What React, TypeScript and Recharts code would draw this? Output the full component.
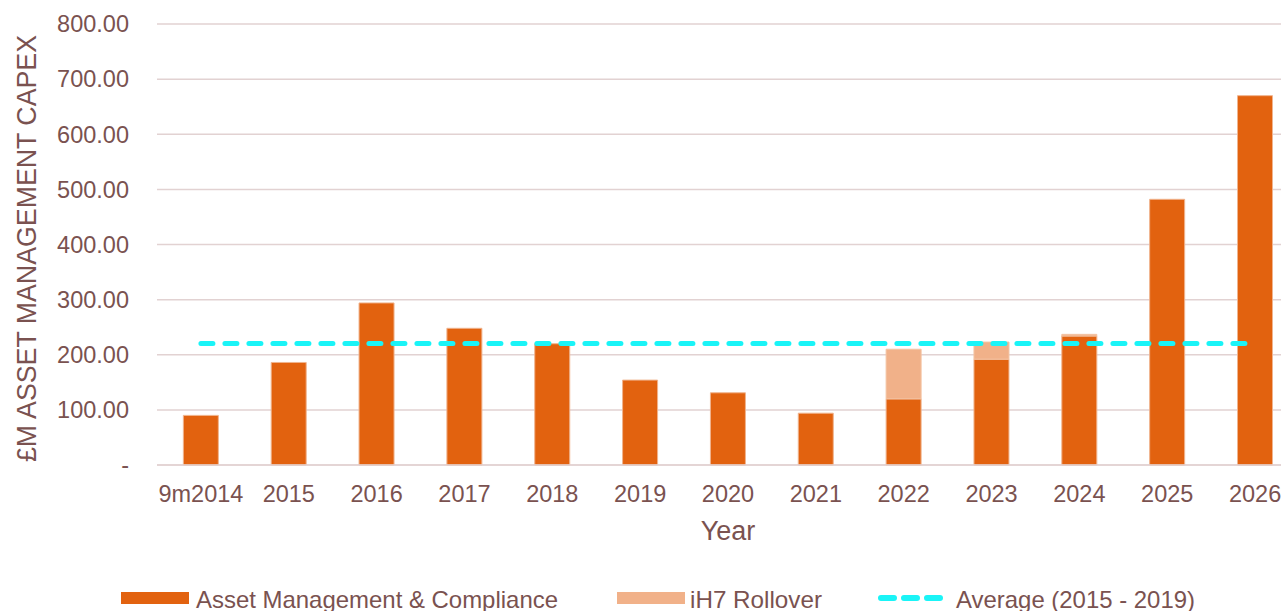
import React from 'react';
import { Bar, Line, XAxis, YAxis, CartesianGrid, Legend, ComposedChart } from 'recharts';

const categories = ['9m2014', '2015', '2016', '2017', '2018', '2019', '2020', '2021', '2022', '2023', '2024', '2025', '2026'];
const assetManagement = [90, 186, 294, 248, 220, 154, 131, 94, 120, 192, 234, 482, 670];
const ih7Rollover = [0, 0, 0, 0, 0, 0, 0, 0, 90, 31, 3, 0, 0];
const averageValues = [220.4, 220.4, 220.4, 220.4, 220.4, 220.4, 220.4, 220.4, 220.4, 220.4, 220.4, 220.4, 220.4];
const yTicks = [0, 100, 200, 300, 400, 500, 600, 700, 800];

const data = categories.map((c, i) => ({
  year: c,
  am: assetManagement[i],
  ih7: ih7Rollover[i],
  avg: averageValues[i],
}));

const FONT = '"Liberation Sans", Arial, sans-serif';
const TEXT = '#7A5250';
const GRID = '#E2D2D2';
const DARK = '#E2620F';
const LIGHT = '#F1B189';
const CYAN = '#1AF4F7';

const renderLegend = () => (
  <svg width={1300} height={40} style={{ display: 'block' }}>
    <rect x={121} y={14} width={68} height={12} fill={DARK} />
    <text x={196} y={21} dominantBaseline="central" fontSize={24} fill={TEXT} fontFamily={FONT} textLength={362} lengthAdjust="spacingAndGlyphs">Asset Management &amp; Compliance</text>
    <rect x={617} y={14} width={68} height={12} fill={LIGHT} />
    <text x={690} y={21} dominantBaseline="central" fontSize={24} fill={TEXT} fontFamily={FONT} textLength={132} lengthAdjust="spacingAndGlyphs">iH7 Rollover</text>
    <line x1={881} y1={20} x2={941} y2={20} stroke={CYAN} strokeWidth={6} strokeDasharray="13 10" strokeLinecap="round" />
    <text x={956} y={21} dominantBaseline="central" fontSize={24} fill={TEXT} fontFamily={FONT} textLength={239} lengthAdjust="spacingAndGlyphs">Average (2015 - 2019)</text>
  </svg>
);

const YTitle = () => {
  const cy = 248.5;
  return (
    <text x={27} y={cy} transform={`rotate(-90, 27, ${cy})`} textAnchor="middle" dominantBaseline="central" fontSize={27} fill={TEXT} fontFamily={FONT} textLength={427} lengthAdjust="spacingAndGlyphs">
      £M ASSET MANAGEMENT CAPEX
    </text>
  );
};

export default function App() {
  return (
    <div style={{ position: 'absolute', left: 0, top: 0, width: 1281, height: 611, overflow: 'hidden', background: '#fff', fontFamily: FONT }}>
      <ComposedChart
        width={1300}
        height={611}
        data={data}
        margin={{ top: 24, right: 1, bottom: 66, left: 0 }}
        barCategoryGap="30%"
      >
        <CartesianGrid vertical={false} stroke={GRID} strokeWidth={1.5} />
        <XAxis
          dataKey="year"
          axisLine={{ stroke: GRID, strokeWidth: 1.5 }}
          tickLine={false}
          tickSize={6}
          tickMargin={14}
          height={80}
          interval={0}
          tick={{ fill: TEXT, fontSize: 23.5, fontFamily: FONT }}
          label={{ value: 'Year', position: 'insideBottom', offset: 5, fill: TEXT, fontSize: 27, fontFamily: FONT }}
        />
        <YAxis
          width={157}
          domain={[0, 800]}
          ticks={yTicks}
          axisLine={false}
          tickLine={false}
          tickSize={6}
          tickMargin={22}
          tick={{ fill: TEXT, fontSize: 23.5, fontFamily: FONT }}
          tickFormatter={(v: number) => (v === 0 ? '-' : v.toFixed(2))}
          label={{ content: YTitle }}
        />
        <Legend
          layout="horizontal"
          verticalAlign="middle"
          align="center"
          content={renderLegend}
          wrapperStyle={{ top: 578, left: 0, width: 1300, height: 40 }}
        />
        <Bar dataKey="am" name="Asset Management & Compliance" stackId="a" fill={DARK} stroke="#F0B48E" strokeWidth={1} isAnimationActive={false} />
        <Bar dataKey="ih7" name="iH7 Rollover" stackId="a" fill={LIGHT} stroke="#F3C3A3" strokeWidth={1} isAnimationActive={false} />
        <Line dataKey="avg" name="Average (2015 - 2019)" stroke={CYAN} strokeWidth={5} strokeDasharray="12 12" strokeLinecap="round" dot={false} activeDot={false} isAnimationActive={false} />
      </ComposedChart>
    </div>
  );
}
